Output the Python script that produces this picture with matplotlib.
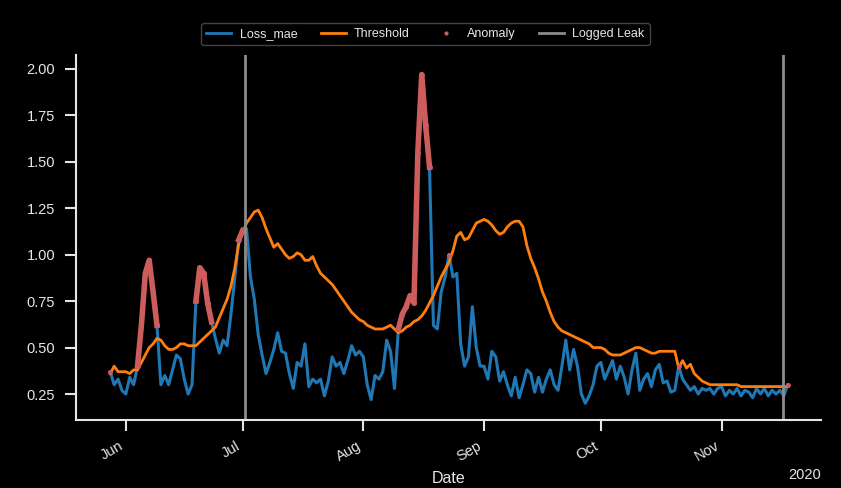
import numpy as np
import pandas as pd
import matplotlib
matplotlib.use("Agg")
import matplotlib.pyplot as plt
import matplotlib.dates as mdates
from matplotlib.lines import Line2D

plt.rcParams['font.family'] = ['Liberation Sans', 'DejaVu Sans']

# daily loss and threshold, 2020-05-28 .. 2020-11-18
loss_may = [0.37, 0.30, 0.33, 0.27]
loss_jun = [0.25, 0.34, 0.30, 0.40, 0.62, 0.90, 0.97, 0.80, 0.62, 0.30,
            0.35, 0.30, 0.38, 0.46, 0.44, 0.33, 0.25, 0.30, 0.75, 0.93,
            0.90, 0.74, 0.64, 0.55, 0.47, 0.54, 0.51, 0.68, 0.88, 1.08]
loss_jul = [1.13, 1.14, 0.88, 0.76, 0.57, 0.46, 0.36, 0.42, 0.49, 0.58,
            0.48, 0.47, 0.36, 0.28, 0.42, 0.40, 0.52, 0.29, 0.33, 0.31,
            0.33, 0.24, 0.32, 0.45, 0.40, 0.42, 0.36, 0.43, 0.51, 0.46, 0.48]
loss_aug = [0.45, 0.30, 0.22, 0.35, 0.33, 0.37, 0.54, 0.48, 0.28, 0.60,
            0.68, 0.72, 0.78, 0.74, 1.55, 1.97, 1.70, 1.47, 0.62, 0.60,
            0.80, 0.88, 1.00, 0.88, 0.90, 0.52, 0.40, 0.45, 0.72, 0.50, 0.40]
loss_sep = [0.40, 0.33, 0.48, 0.45, 0.32, 0.37, 0.30, 0.24, 0.34, 0.23,
            0.30, 0.38, 0.36, 0.26, 0.34, 0.26, 0.33, 0.38, 0.30, 0.27,
            0.40, 0.54, 0.38, 0.49, 0.40, 0.25, 0.20, 0.24, 0.30, 0.40]
loss_oct = [0.42, 0.33, 0.38, 0.43, 0.33, 0.40, 0.34, 0.25, 0.38, 0.47,
            0.27, 0.33, 0.36, 0.29, 0.38, 0.41, 0.31, 0.32, 0.26, 0.27,
            0.40, 0.33, 0.30, 0.27, 0.29, 0.25, 0.28, 0.27, 0.28, 0.25, 0.28]
loss_nov = [0.29, 0.24, 0.27, 0.25, 0.28, 0.24, 0.27, 0.26, 0.23, 0.28,
            0.25, 0.28, 0.24, 0.27, 0.25, 0.27, 0.24, 0.30]

thr_may = [0.36, 0.40, 0.37, 0.37]
thr_jun = [0.37, 0.36, 0.38, 0.38, 0.42, 0.46, 0.50, 0.52, 0.55, 0.54,
           0.51, 0.49, 0.49, 0.50, 0.52, 0.52, 0.51, 0.51, 0.51, 0.53,
           0.55, 0.57, 0.59, 0.61, 0.66, 0.71, 0.76, 0.83, 0.93, 1.06]
thr_jul = [1.12, 1.17, 1.20, 1.23, 1.24, 1.20, 1.14, 1.09, 1.04, 1.06,
           1.03, 1.00, 0.98, 0.99, 1.01, 1.00, 0.97, 0.97, 0.99, 0.94,
           0.90, 0.88, 0.86, 0.84, 0.81, 0.78, 0.75, 0.72, 0.69, 0.67, 0.65]
thr_aug = [0.64, 0.62, 0.61, 0.60, 0.60, 0.60, 0.61, 0.62, 0.60, 0.58,
           0.59, 0.61, 0.62, 0.64, 0.65, 0.67, 0.70, 0.74, 0.78, 0.83,
           0.88, 0.92, 0.96, 1.02, 1.10, 1.12, 1.08, 1.09, 1.13, 1.17, 1.18]
thr_sep = [1.19, 1.18, 1.16, 1.13, 1.11, 1.12, 1.15, 1.17, 1.18, 1.18,
           1.15, 1.05, 0.98, 0.93, 0.87, 0.80, 0.75, 0.69, 0.64, 0.61,
           0.59, 0.58, 0.57, 0.56, 0.55, 0.54, 0.53, 0.52, 0.50, 0.50]
thr_oct = [0.50, 0.49, 0.47, 0.46, 0.46, 0.46, 0.47, 0.48, 0.49, 0.50,
           0.50, 0.49, 0.48, 0.47, 0.47, 0.48, 0.48, 0.48, 0.48, 0.48,
           0.39, 0.43, 0.39, 0.41, 0.36, 0.34, 0.32, 0.31, 0.30, 0.30, 0.30]
thr_nov = [0.30, 0.30, 0.30, 0.30, 0.30, 0.29, 0.29, 0.29, 0.29, 0.29,
           0.29, 0.29, 0.29, 0.29, 0.29, 0.29, 0.29, 0.29]

leak_dates = ["2020-07-01 14:00", "2020-11-16 16:00"]

loss = np.array(loss_may + loss_jun + loss_jul + loss_aug + loss_sep + loss_oct + loss_nov)
thr = np.array(thr_may + thr_jun + thr_jul + thr_aug + thr_sep + thr_oct + thr_nov)
dates = pd.date_range("2020-05-28", periods=len(loss), freq="D")
anomaly = np.where(loss > thr, loss, np.nan)

fg = "#e6e6e6"
fig = plt.figure(figsize=(8.41, 4.88), dpi=100, facecolor="black")
ax = fig.add_axes([0.0904, 0.1393, 0.976 - 0.0904, 0.8873 - 0.1393])
ax.set_facecolor("black")

ax.plot(dates, loss, color="#1f77b4", lw=2.2)
ax.plot(dates, thr, color="#ff7f0e", lw=2)
ax.plot(dates, anomaly, color="#cd5c5c", lw=4, marker=".", ms=5)
for d in leak_dates:
    ax.axvline(pd.Timestamp(d), color="#8c8c8c", lw=2)

ax.set_xlim(pd.Timestamp("2020-05-19 05:00"), pd.Timestamp("2020-11-26 12:00"))
ax.set_ylim(0.11, 2.075)
ax.set_yticks([0.25, 0.5, 0.75, 1.0, 1.25, 1.5, 1.75, 2.0])

loc = mdates.MonthLocator()
ax.xaxis.set_major_locator(loc)
ax.xaxis.set_major_formatter(mdates.ConciseDateFormatter(loc))
plt.setp(ax.get_xticklabels(), rotation=30, ha="right")

for s in ["top", "right"]:
    ax.spines[s].set_visible(False)
for s in ["left", "bottom"]:
    ax.spines[s].set_color(fg)
    ax.spines[s].set_linewidth(1.5)
ax.tick_params(colors=fg, labelsize=10.5, length=8, width=1.5)
ax.tick_params(axis="y", pad=7)
ax.tick_params(axis="x", pad=5.5)
ax.xaxis.get_offset_text().set_color(fg)
ax.xaxis.get_offset_text().set_fontsize(10.5)
ax.set_xlabel("Date", color=fg, fontsize=11.5, labelpad=5)

handles = [
    Line2D([], [], color="#1f77b4", lw=2),
    Line2D([], [], color="#ff7f0e", lw=2),
    Line2D([], [], color="#cd5c5c", ls="", marker=".", ms=4),
    Line2D([], [], color="#8c8c8c", lw=2),
]
leg = fig.legend(handles, ["Loss_mae", "Threshold", "Anomaly", "Logged Leak"],
                 loc="upper center", bbox_to_anchor=(0.506, 0.965), ncol=4,
                 fontsize=9, facecolor="black", edgecolor="#555555",
                 labelcolor=fg, columnspacing=1.9, handlelength=2.0,
                 handletextpad=0.65, fancybox=True)

fig.savefig("out.png", dpi=100, facecolor="black")
